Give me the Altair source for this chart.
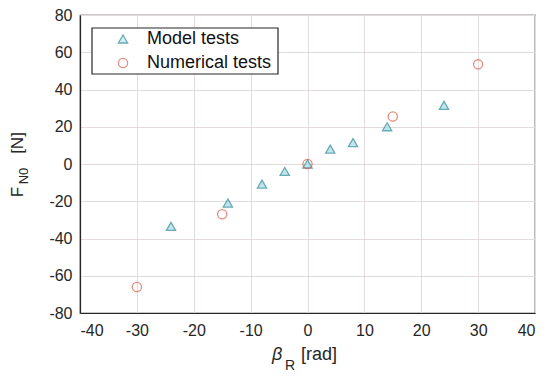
import altair as alt
import pandas as pd

model_x = [-24, -14, -8, -4, 0, 4, 8, 14, 24]
model_y = [-33.5, -21, -10.8, -4, 0, 8, 11.5, 20, 31.5]
num_x = [-30, -15, 0, 15, 30]
num_y = [-66, -27, 0, 25.5, 53.5]
series_names = ["Model tests", "Numerical tests"]
x_ticks = [-40, -30, -20, -10, 0, 10, 20, 30, 40]
y_ticks = [-80, -60, -40, -20, 0, 20, 40, 60, 80]

df = pd.DataFrame({
    "beta": model_x + num_x,
    "F": model_y + num_y,
    "series": [series_names[0]] * len(model_x) + [series_names[1]] * len(num_x),
})

FONT = "Liberation Sans"
TXT = "#262626"

points = alt.Chart(df).mark_point(strokeWidth=1.3, size=85).encode(
    x=alt.X("beta:Q", scale=alt.Scale(domain=[-40, 40], nice=False),
            axis=alt.Axis(values=x_ticks, title=None, labelExpr="toString(datum.value)")),
    y=alt.Y("F:Q", scale=alt.Scale(domain=[-80, 80], nice=False),
            axis=alt.Axis(values=y_ticks, title=None, labelExpr="toString(datum.value)")),
    shape=alt.Shape("series:N", scale=alt.Scale(domain=series_names, range=["triangle-up", "circle"]),
                    legend=alt.Legend(title=None, orient="none", legendX=12, legendY=15,
                                      padding=0, symbolOffset=22, labelOffset=15, rowPadding=6,
                                      labelFont=FONT, labelFontSize=18, labelColor="#111111",
                                      symbolSize=85, symbolStrokeWidth=1.3)),
    stroke=alt.Stroke("series:N", scale=alt.Scale(domain=series_names, range=["#2b8797", "#d9604a"]),
                      legend=alt.Legend(title=None)),
    fill=alt.Fill("series:N", scale=alt.Scale(domain=series_names, range=["#a6dde6", "#ffffff"]),
                  legend=alt.Legend(title=None)),
    fillOpacity=alt.FillOpacity("series:N", scale=alt.Scale(domain=series_names, range=[1, 0]),
                                legend=alt.Legend(title=None)),
)

legend_box = alt.Chart(pd.DataFrame({"k": [0]})).mark_rect(
    fill="white", stroke="#262626", strokeWidth=1.2
).encode(x=alt.value(12), x2=alt.value(198), y=alt.value(13), y2=alt.value(59))

def label(text, x, y, size=16, angle=0, style="normal", align="left"):
    return alt.Chart(pd.DataFrame({"t": [text]})).mark_text(
        font=FONT, fontSize=size, color=TXT, angle=angle, fontStyle=style,
        align=align, baseline="middle"
    ).encode(text="t:N", x=alt.value(x), y=alt.value(y))

titles = (
    label("β", 192, 340, size=18, style="italic")
    + label("R", 205, 351, size=14)
    + label("[rad]", 221, 340, size=18)
    + label("F", -62, 177, size=17, angle=270, align="center")
    + label("N0", -56, 161, size=13, angle=270, align="center")
    + label("[N]", -62, 128, size=17, angle=270, align="center")
)

chart = alt.layer(legend_box, points, titles).properties(
    width=455, height=298,
    autosize=alt.AutoSizeParams(type="none"),
    padding={"left": 72, "top": 7, "right": 4, "bottom": 60},
).configure_view(stroke="#262626", strokeWidth=1.2).configure_axis(
    grid=True, gridColor="#e4dcdc", gridWidth=1, domain=True, domainColor="#262626",
    domainWidth=1.2, ticks=False,
    labelFont=FONT, labelFontSize=16, labelColor=TXT,
).configure_axisX(labelPadding=9).configure_axisY(labelPadding=8)

chart.save("out.html", embed_options={"renderer": "svg", "actions": False})
